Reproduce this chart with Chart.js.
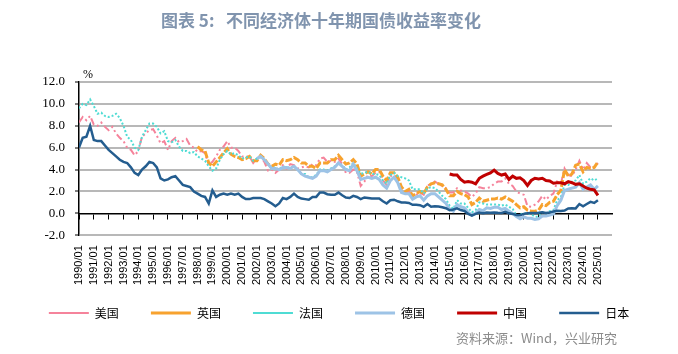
<!DOCTYPE html>
<html><head><meta charset="utf-8">
<script src="https://cdn.jsdelivr.net/npm/chart.js@4"></script>
<style>html,body{margin:0;padding:0;background:#fff}#wrap{width:678px;height:354px}</style>
</head><body><div id="wrap"><canvas id="c" width="678" height="354"></canvas></div>
<script>
const titleText = '图表 5:   不同经济体十年期国债收益率变化';
const sourceText = '资料来源：Wind，兴业研究';
const unitText = '%';
const seriesNames = ['美国', '英国', '法国', '德国', '中国', '日本'];

// quarterly observation dates (Jan/Apr/Jul/Oct), 1990/01 .. 2025/01
const dates = [];
for (let y = 1990; y <= 2025; y++) {
  for (const m of ['01', '04', '07', '10']) {
    if (y === 2025 && m !== '01') break;
    dates.push(y + '/' + m);
  }
}

const usStart = '1990/01';
const us = [
  8.3, 8.8, 8.5, 8.9,  8.1, 8.0, 8.3, 7.9,  7.6, 7.9, 7.3, 6.9,  6.6, 6.0, 5.8, 5.3,
  5.7, 7.0, 7.3, 7.6,  7.7, 7.1, 6.4, 6.6,  5.8, 6.6, 6.9, 6.5,  6.6, 6.8, 6.2, 6.0,
  5.6, 5.7, 5.5, 4.5,  4.7, 5.2, 5.8, 6.1,  6.6, 6.0, 6.0, 5.7,  5.2, 5.2, 5.2, 4.6,
  5.0, 5.2, 4.7, 3.9,  4.0, 3.7, 4.0, 4.4,  4.1, 4.5, 4.4, 4.1,  4.2, 4.3, 4.2, 4.5,
  4.4, 5.0, 5.1, 4.7,  4.8, 4.7, 5.0, 4.5,  3.7, 3.7, 4.0, 3.8,  2.5, 2.9, 3.5, 3.4,
  3.7, 3.8, 3.0, 2.6,  3.4, 3.5, 3.0, 2.1,  1.9, 2.0, 1.5, 1.7,  1.9, 1.7, 2.6, 2.6,
  2.9, 2.7, 2.5, 2.3,  1.9, 1.9, 2.3, 2.1,  2.0, 1.8, 1.5, 1.8,  2.4, 2.3, 2.3, 2.4,
  2.7, 2.9, 2.9, 3.2,  2.7, 2.5, 2.0, 1.8,  1.7, 0.65, 0.6, 0.8, 1.1, 1.6, 1.25, 1.6,
  1.8, 2.9, 2.7, 4.1,  3.5, 3.4, 4.0, 4.8,  4.0, 4.6, 4.2, 4.2,  4.6
];

const ukStart = '1998/01';
const uk = [
  6.1, 5.8, 5.7, 4.6,  4.3, 4.7, 5.1, 5.5,  5.9, 5.4, 5.2, 5.1,  4.9, 5.0, 5.2, 4.8,
  4.8, 5.3, 5.0, 4.5,  4.3, 4.5, 4.4, 4.9,  4.8, 4.9, 5.1, 4.9,  4.6, 4.6, 4.3, 4.3,
  4.1, 4.6, 4.6, 4.6,  4.9, 4.9, 5.3, 4.9,  4.5, 4.6, 4.9, 4.5,  3.4, 3.6, 3.8, 3.6,
  4.0, 4.0, 3.4, 3.0,  3.7, 3.7, 3.3, 2.4,  2.0, 2.2, 1.6, 1.8,  2.0, 1.8, 2.4, 2.7,
  2.8, 2.7, 2.6, 2.2,  1.6, 1.6, 2.0, 1.8,  1.7, 1.5, 0.8, 1.0,  1.4, 1.1, 1.2, 1.3,
  1.3, 1.4, 1.3, 1.5,  1.3, 1.1, 0.8, 0.5,  0.6, 0.3, 0.2, 0.2,  0.3, 0.8, 0.7, 1.0,
  1.1, 1.7, 2.1, 4.0,  3.4, 3.6, 4.4, 4.5,  3.8, 4.2, 4.1, 4.2,  4.7
];

const frStart = '1990/01';
const fr = [
  9.6, 10.0, 9.9, 10.4, 9.8, 9.1, 9.2, 8.9,  8.8, 8.9, 9.1, 8.7,  8.0, 7.0, 6.7, 6.0,
  5.8, 7.0, 7.6, 8.2,  8.2, 7.9, 7.3, 7.5,  6.6, 6.5, 6.7, 6.1,  5.7, 5.7, 5.5, 5.6,
  5.2, 5.0, 4.8, 4.3,  3.9, 4.1, 4.9, 5.4,  5.7, 5.4, 5.5, 5.3,  5.0, 5.1, 5.2, 4.8,
  5.0, 5.2, 4.9, 4.5,  4.1, 4.2, 4.0, 4.3,  4.2, 4.2, 4.3, 4.0,  3.6, 3.6, 3.3, 3.3,
  3.5, 4.0, 4.0, 3.9,  4.1, 4.3, 4.6, 4.4,  4.0, 4.2, 4.6, 4.1,  3.6, 3.7, 3.8, 3.6,
  3.6, 3.5, 3.0, 2.7,  3.5, 3.7, 3.4, 3.3,  3.2, 3.0, 2.2, 2.2,  2.2, 1.8, 2.3, 2.4,
  2.3, 2.0, 1.6, 1.3,  0.7, 0.4, 1.2, 0.9,  0.9, 0.5, 0.1, 0.3,  1.0, 0.9, 0.8, 0.8,
  0.8, 0.8, 0.7, 0.8,  0.6, 0.4, -0.2, -0.1, 0.0, 0.0, -0.1, -0.3, -0.3, 0.1, 0.0, 0.2,
  0.3, 1.2, 1.5, 2.6,  2.6, 2.9, 3.0, 3.5,  2.7, 2.9, 3.2, 3.0,  3.2
];

const deStart = '2002/01';
const de = [
  5.0, 5.2, 4.9, 4.5,  4.1, 4.1, 4.0, 4.2,  4.2, 4.1, 4.3, 4.0,  3.6, 3.4, 3.3, 3.2,
  3.4, 3.9, 3.9, 3.8,  4.0, 4.2, 4.6, 4.3,  4.0, 3.9, 4.5, 3.9,  3.1, 3.2, 3.3, 3.2,
  3.3, 3.1, 2.6, 2.3,  3.0, 3.3, 2.8, 1.9,  1.8, 1.8, 1.3, 1.5,  1.6, 1.2, 1.6, 1.8,
  1.8, 1.5, 1.2, 0.9,  0.4, 0.2, 0.8, 0.6,  0.5, 0.1, -0.15, 0.0, 0.35, 0.25, 0.5, 0.45,
  0.55, 0.55, 0.35, 0.45, 0.2, 0.0, -0.3, -0.5, -0.3, -0.45, -0.45, -0.55, -0.5, -0.25, -0.25, -0.15,
  -0.05, 0.7, 1.2, 2.1, 2.2, 2.3, 2.4, 2.8,  2.2, 2.4, 2.6, 2.2,  2.5
];

const cnStart = '2015/01';
const cn = [
  3.6, 3.5, 3.5, 3.1,  2.85, 2.9, 2.85, 2.7, 3.2, 3.4, 3.55, 3.7, 3.95, 3.65, 3.5, 3.6,
  3.1, 3.4, 3.2, 3.25, 3.0, 2.55, 3.0, 3.2, 3.15, 3.2, 3.0, 2.95, 2.75, 2.8, 2.8, 2.7,
  2.9, 2.8, 2.65, 2.7, 2.5, 2.3, 2.2, 2.15, 1.65
];

const jpStart = '1990/01';
const jp = [
  6.0, 6.9, 7.0, 8.0,  6.7, 6.6, 6.6, 6.2,  5.8, 5.5, 5.2, 4.9,  4.7, 4.6, 4.2, 3.7,
  3.5, 4.0, 4.3, 4.7,  4.6, 4.2, 3.2, 3.0,  3.1, 3.3, 3.4, 3.0,  2.6, 2.5, 2.4, 2.0,
  1.8, 1.6, 1.5, 0.9,  2.1, 1.5, 1.7, 1.8,  1.7, 1.8, 1.7, 1.8,  1.5, 1.3, 1.3, 1.4,
  1.4, 1.4, 1.3, 1.1,  0.9, 0.65, 0.9, 1.4, 1.3, 1.5, 1.8, 1.5,  1.35, 1.3, 1.25, 1.5,
  1.5, 1.9, 1.9, 1.75, 1.7, 1.7, 1.9, 1.65, 1.45, 1.4, 1.6, 1.5, 1.3, 1.45, 1.4, 1.35,
  1.35, 1.35, 1.1, 0.9, 1.2, 1.25, 1.1, 1.0, 1.0, 0.95, 0.78, 0.78, 0.75, 0.6, 0.85, 0.6,
  0.65, 0.62, 0.55, 0.47, 0.28, 0.35, 0.45, 0.3, 0.22, -0.05, -0.2, -0.05, 0.07, 0.02, 0.08, 0.06,
  0.08, 0.05, 0.04, 0.14, 0.0, -0.05, -0.15, -0.18, -0.05, 0.02, 0.03, 0.03, 0.05, 0.1, 0.03, 0.09,
  0.17, 0.24, 0.22, 0.25, 0.45, 0.47, 0.45, 0.85, 0.65, 0.85, 1.05, 0.95, 1.2
];

const yMin = -2, yMax = 12, yStep = 2;
const xFirstYear = 1990, xLastYear = 2025;

function toNum(d) { const [y, m] = d.split('/').map(Number); return y + (m - 1) / 12; }
function pts(start, vals) {
  const off = dates.indexOf(start);
  return vals.map((v, i) => ({ x: toNum(dates[off + i]), y: v }));
}

const styles = [
  { color: '#F5839B', width: 2, dash: [7, 3, 2, 3, 2, 3] },
  { color: '#F7A22E', width: 3, dash: [7, 2] },
  { color: '#4FDCD4', width: 2, dash: [2, 2] },
  { color: '#9DC3E6', width: 3, dash: [] },
  { color: '#C00000', width: 3, dash: [] },
  { color: '#245D8F', width: 2.5, dash: [] }
];
const seriesData = [pts(usStart, us), pts(ukStart, uk), pts(frStart, fr), pts(deStart, de), pts(cnStart, cn), pts(jpStart, jp)];

const datasets = seriesData.map((d, i) => ({
  label: seriesNames[i],
  data: d,
  borderColor: styles[i].color,
  backgroundColor: styles[i].color,
  borderWidth: styles[i].width,
  borderDash: styles[i].dash,
  pointRadius: 0,
  tension: 0,
  fill: false,
  order: 6 - i
}));

Chart.defaults.font.family = '"Noto Sans CJK SC", "Liberation Sans", sans-serif';

const gridGray = '#B8B8B8';

// horizontal gridlines placed through the y scale's own ticks
const hGridPlugin = {
  id: 'hgrid',
  beforeDatasetsDraw(chart) {
    const { ctx, chartArea: a } = chart;
    const ys = chart.scales.y;
    ctx.save();
    ctx.strokeStyle = gridGray;
    ctx.lineWidth = 2;
    ctx.setLineDash([]);
    ys.ticks.forEach(t => {
      if (t.value === 0) return;
      const py = Math.round(ys.getPixelForValue(t.value));
      ctx.beginPath();
      ctx.moveTo(a.left + 1, py);
      ctx.lineTo(a.right, py);
      ctx.stroke();
    });
    ctx.restore();
  }
};

const textPlugin = {
  id: 'texts',
  afterDraw(chart) {
    const ctx = chart.ctx;
    ctx.save();
    ctx.font = 'bold 17px "Noto Sans CJK SC"';
    ctx.fillStyle = '#8094AE';
    ctx.textAlign = 'center';
    ctx.textBaseline = 'middle';
    ctx.fillText(titleText, 321, 21);
    ctx.font = '13px "Noto Sans CJK SC"';
    ctx.fillStyle = '#8C8C8C';
    ctx.textAlign = 'right';
    ctx.fillText(sourceText, 617, 338);
    ctx.font = '12px "Liberation Serif"';
    ctx.fillStyle = '#000';
    ctx.textAlign = 'left';
    ctx.textBaseline = 'bottom';
    ctx.fillText(unitText, chart.chartArea.left + 4, chart.scales.y.getPixelForValue(yMax) - 1);
    ctx.restore();
  }
};

const legendGap = '\u3000   ';

new Chart(document.getElementById('c'), {
  type: 'line',
  data: { datasets },
  options: {
    responsive: false,
    animation: false,
    devicePixelRatio: 1,
    layout: { padding: { top: 82, left: 0, right: 0, bottom: 25 } },
    plugins: {
      title: { display: false },
      tooltip: { enabled: false },
      legend: {
        position: 'bottom',
        labels: {
          usePointStyle: true,
          pointStyle: 'line',
          pointStyleWidth: 40,
          padding: 12,
          color: '#000',
          font: { size: 12, family: '"Noto Sans CJK SC"' },
          generateLabels(chart) {
            const items = Chart.defaults.plugins.legend.labels.generateLabels(chart);
            items.sort((a, b) => a.datasetIndex - b.datasetIndex);
            items.forEach((it, i) => { if (i < items.length - 1) it.text = it.text + legendGap; });
            return items;
          }
        }
      }
    },
    scales: {
      x: {
        type: 'linear',
        position: 'bottom',
        min: xFirstYear,
        max: xLastYear + 0.95,
        grid: { display: false, drawTicks: false },
        border: { display: false },
        ticks: {
          stepSize: 1,
          includeBounds: false,
          autoSkip: false,
          minRotation: 90,
          maxRotation: 90,
          padding: 10,
          color: '#000',
          font: { size: 11, family: '"Liberation Sans"' },
          callback: v => Math.round(v) + '/01'
        }
      },
      x0: {
        type: 'linear',
        axis: 'x',
        position: { y: 0 },
        min: xFirstYear,
        max: xLastYear + 0.95,
        grid: { display: true, drawOnChartArea: false, drawTicks: true, tickLength: 5, tickColor: '#000', tickWidth: 1 },
        border: { display: true, color: '#000', width: 1.5 },
        ticks: { display: false, stepSize: 1, includeBounds: false, autoSkip: false }
      },
      y: {
        position: 'left',
        min: yMin,
        max: yMax,
        afterFit(s) { s.width = 79; },
        grid: { display: true, drawOnChartArea: false, color: gridGray, lineWidth: 2, tickLength: 4, tickColor: '#000', tickWidth: 1 },
        border: { display: true, color: '#000', width: 1.5 },
        ticks: {
          stepSize: yStep,
          padding: 10,
          color: '#000',
          font: { size: 13, family: '"Liberation Serif"' },
          callback: v => v.toFixed(1)
        }
      },
      yR: {
        type: 'linear',
        axis: 'y',
        position: 'right',
        min: yMin,
        max: yMax,
        afterFit(s) { s.width = 66; },
        grid: { display: false, drawTicks: false },
        border: { display: false },
        ticks: { display: false, stepSize: yStep }
      }
    }
  },
  plugins: [hGridPlugin, textPlugin]
});
</script>
</body></html>
